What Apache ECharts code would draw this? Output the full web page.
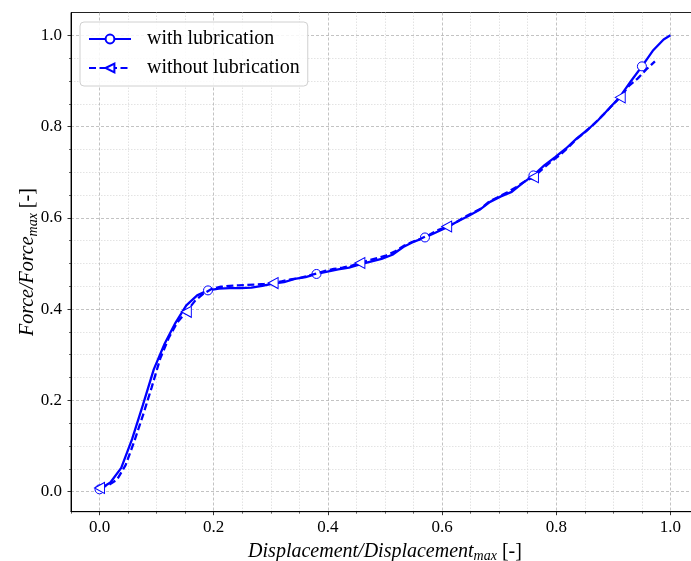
<!DOCTYPE html>
<html>
<head>
<meta charset="utf-8">
<script src="https://cdn.jsdelivr.net/npm/echarts@6/dist/echarts.min.js"></script>
<style>
html,body{margin:0;padding:0;background:#fff;}
#chart{width:691px;height:561px;}
</style>
</head>
<body>
<div id="chart"></div>
<script>
// ---- data ----
const seriesNames = ['with lubrication', 'without lubrication'];

const withX = [0.000,0.019,0.038,0.057,0.076,0.095,0.114,0.133,0.152,0.171,
  0.190,0.209,0.228,0.247,0.266,0.285,0.304,0.323,0.342,0.361,
  0.380,0.399,0.418,0.437,0.456,0.475,0.494,0.513,0.532,0.551,
  0.570,0.589,0.608,0.627,0.646,0.665,0.684,0.703,0.722,0.741,
  0.760,0.779,0.798,0.817,0.836,0.855,0.874,0.893,0.912,0.931,
  0.950,0.969,0.988,1.000];
const withY = [0.005,0.020,0.052,0.115,0.190,0.268,0.324,0.370,0.408,0.430,
  0.441,0.445,0.446,0.446,0.447,0.451,0.456,0.459,0.466,0.470,
  0.477,0.482,0.487,0.491,0.498,0.504,0.510,0.519,0.536,0.548,
  0.557,0.568,0.579,0.592,0.604,0.617,0.635,0.647,0.657,0.676,
  0.693,0.715,0.733,0.752,0.774,0.793,0.815,0.840,0.866,0.900,
  0.932,0.966,0.991,1.000];

const withoutX = [0.0000,0.0152,0.0304,0.0456,0.0608,0.0760,0.0912,0.1064,0.1216,0.1368,
  0.1520,0.1672,0.1824,0.1976,0.2128,0.2280,0.2432,0.2584,0.2736,0.2888,
  0.3040,0.3192,0.3344,0.3496,0.3648,0.3800,0.3952,0.4104,0.4256,0.4408,
  0.4560,0.4712,0.4864,0.5016,0.5168,0.5320,0.5472,0.5624,0.5776,0.5928,
  0.6080,0.6232,0.6384,0.6536,0.6688,0.6840,0.6992,0.7144,0.7296,0.7448,
  0.7600,0.7752,0.7904,0.8056,0.8208,0.8360,0.8512,0.8664,0.8816,0.8968,
  0.9120,0.9272,0.9424,0.9576,0.9728];
const withoutY = [0.008,0.014,0.026,0.058,0.110,0.167,0.228,0.292,0.338,0.372,
  0.394,0.418,0.434,0.445,0.449,0.451,0.452,0.453,0.454,0.455,
  0.457,0.461,0.465,0.468,0.473,0.478,0.484,0.488,0.491,0.495,
  0.501,0.507,0.512,0.517,0.526,0.538,0.547,0.554,0.563,0.573,
  0.581,0.589,0.601,0.611,0.621,0.637,0.646,0.656,0.667,0.680,
  0.689,0.706,0.723,0.737,0.754,0.773,0.789,0.806,0.825,0.845,
  0.864,0.889,0.905,0.925,0.943];

const majorTicks = [0.0,0.2,0.4,0.6,0.8,1.0];
const xMinorTicks = [-0.05,0.05,0.10,0.15,0.25,0.30,0.35,0.45,0.50,0.55,0.65,0.70,0.75,0.85,0.90,0.95,1.05];
const yMinorTicks = [0.05,0.10,0.15,0.25,0.30,0.35,0.45,0.50,0.55,0.65,0.70,0.75,0.85,0.90,0.95];

// ---- styling ----
const BLUE = '#0000ff';
const FONT = 'Liberation Serif';
const markEvery = 10;
const triLeft = 'path://M0,5 L10,0 L10,10 Z';

function buildData(xs, ys, sym) {
  return xs.map((x, i) => ({
    value: [x, ys[i]],
    symbol: (i % markEvery === 0) ? sym : 'none'
  }));
}

const majorSplit = {show: true, lineStyle: {color: '#b4b4b4', width: 0.8, type: [3, 2]}};
const minorSplit = {show: true, lineStyle: {color: '#dcdcdc', width: 0.8, type: [1.5, 1.5]}};
const tickLabel = {fontFamily: FONT, fontSize: 17, color: '#000'};
const nameRich = {
  i: {fontFamily: FONT, fontSize: 20, fontStyle: 'italic', color: '#000', lineHeight: 26},
  s: {fontFamily: FONT, fontSize: 14, fontStyle: 'italic', color: '#000', padding: [10, 0, 0, 0], lineHeight: 16},
  n: {fontFamily: FONT, fontSize: 20, color: '#000', lineHeight: 26}
};

const chart = echarts.init(document.getElementById('chart'), null, {renderer: 'canvas'});
chart.setOption({
  animation: false,
  backgroundColor: '#fff',
  grid: {left: 71, right: -8, top: 12.5, bottom: 49.3, show: true,
         outerBoundsMode: 'none', containLabel: false,
         borderColor: '#222', borderWidth: 1, backgroundColor: 'transparent'},
  legend: {
    left: 80, top: 22, orient: 'vertical',
    padding: [7, 8, 8, 8],
    itemWidth: 42, itemHeight: 11, itemGap: 9,
    backgroundColor: 'rgba(255,255,255,0.85)',
    borderColor: '#d0d0d0', borderWidth: 1, borderRadius: 4,
    textStyle: {fontFamily: FONT, fontSize: 20, color: '#000', lineHeight: 20, padding: [0, 0, 0, 11]},
    data: seriesNames
  },
  xAxis: [
    {
      type: 'value', min: -0.05, max: 1.05, position: 'bottom',
      axisLine: {onZero: false, lineStyle: {color: '#000', width: 1}},
      axisTick: {customValues: majorTicks, length: 3.5, lineStyle: {color: '#000', width: 0.8}},
      axisLabel: Object.assign({customValues: majorTicks, margin: 7, formatter: v => v.toFixed(1)}, tickLabel),
      splitLine: majorSplit,
      name: '{i|Displacement/Displacement}{s|max}{n| [-]}',
      nameLocation: 'middle', nameGap: 27, nameMoveOverlap: false,
      nameTextStyle: {rich: nameRich},
      z: 3
    },
    {
      type: 'value', min: -0.05, max: 1.05, position: 'bottom', gridIndex: 0,
      axisLine: {show: false, onZero: false},
      axisTick: {customValues: xMinorTicks, length: 2, lineStyle: {color: '#000', width: 0.6}},
      axisLabel: {show: false},
      splitLine: minorSplit,
      z: 2
    }
  ],
  yAxis: [
    {
      type: 'value', min: -0.044, max: 1.05, position: 'left',
      axisLine: {show: true, onZero: false, lineStyle: {color: '#000', width: 1}},
      axisTick: {show: true, customValues: majorTicks, length: 3.5, lineStyle: {color: '#000', width: 0.8}},
      axisLabel: Object.assign({customValues: majorTicks, margin: 9, formatter: v => v.toFixed(1)}, tickLabel),
      splitLine: majorSplit,
      name: '{i|Force/Force}{s|max}{n| [-]}',
      nameLocation: 'middle', nameGap: 30, nameRotate: 90, nameMoveOverlap: false,
      nameTextStyle: {rich: nameRich},
      z: 3
    },
    {
      type: 'value', min: -0.044, max: 1.05, position: 'left', gridIndex: 0,
      axisLine: {show: false, onZero: false},
      axisTick: {show: true, customValues: yMinorTicks, length: 2, lineStyle: {color: '#000', width: 0.6}},
      axisLabel: {show: false},
      splitLine: minorSplit,
      z: 2
    }
  ],
  series: [
    {
      name: seriesNames[0], type: 'line', xAxisIndex: 0, yAxisIndex: 0,
      data: buildData(withX, withY, 'circle'),
      symbol: 'circle', symbolSize: 9, showSymbol: true,
      lineStyle: {color: BLUE, width: 2.3},
      itemStyle: {color: '#fff', borderColor: BLUE, borderWidth: 1},
      z: 5
    },
    {
      name: seriesNames[1], type: 'line', xAxisIndex: 0, yAxisIndex: 0,
      data: buildData(withoutX, withoutY, triLeft),
      symbol: triLeft, symbolSize: [10, 11], showSymbol: true,
      lineStyle: {color: BLUE, width: 2.3, type: [7, 3.5]},
      itemStyle: {color: '#fff', borderColor: BLUE, borderWidth: 1},
      z: 6
    }
  ]
});
</script>
</body>
</html>
